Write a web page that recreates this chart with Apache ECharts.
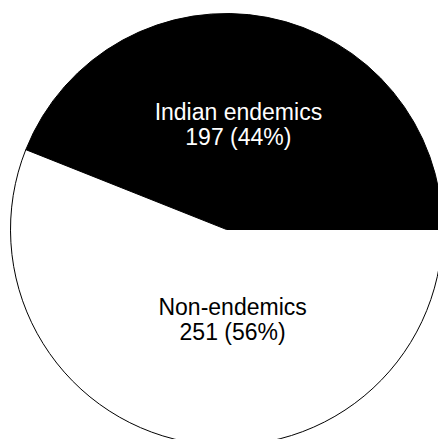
<!DOCTYPE html>
<html>
<head>
<meta charset="utf-8">
<script src="https://cdn.jsdelivr.net/npm/echarts@6/dist/echarts.min.js"></script>
<style>
html,body{margin:0;padding:0;background:#fff;}
#chart{width:438px;height:439px;}
</style>
</head>
<body>
<div id="chart"></div>
<script>
const categories = ['Indian endemics', 'Non-endemics'];
const counts = [197, 251];
const sliceColors = ['#000000', '#ffffff'];
const labelColors = ['#ffffff', '#000000'];
const labelShift = [[-9, 4], [27, -19]];

const chart = echarts.init(document.getElementById('chart'), null, {renderer: 'svg'});
chart.setOption({
  animation: false,
  backgroundColor: '#ffffff',
  series: [{
    type: 'pie',
    center: [226.5, 229.5],
    radius: [0, 216],
    startAngle: 0,
    clockwise: false,
    percentPrecision: 0,
    avoidLabelOverlap: false,
    labelLine: {show: false},
    emphasis: {disabled: true},
    label: {
      show: true,
      position: 'inside',
      formatter: '{b}\n{c} ({d}%)',
      fontFamily: '"Liberation Sans", Arial, sans-serif',
      fontSize: 23,
      lineHeight: 25
    },
    labelLayout: function (p) {
      return {dx: labelShift[p.dataIndex][0], dy: labelShift[p.dataIndex][1]};
    },
    data: categories.map((c, i) => ({
      name: c,
      value: counts[i],
      itemStyle: {color: sliceColors[i], borderColor: '#000000', borderWidth: 1},
      label: {color: labelColors[i]}
    }))
  }]
});
</script>
</body>
</html>
